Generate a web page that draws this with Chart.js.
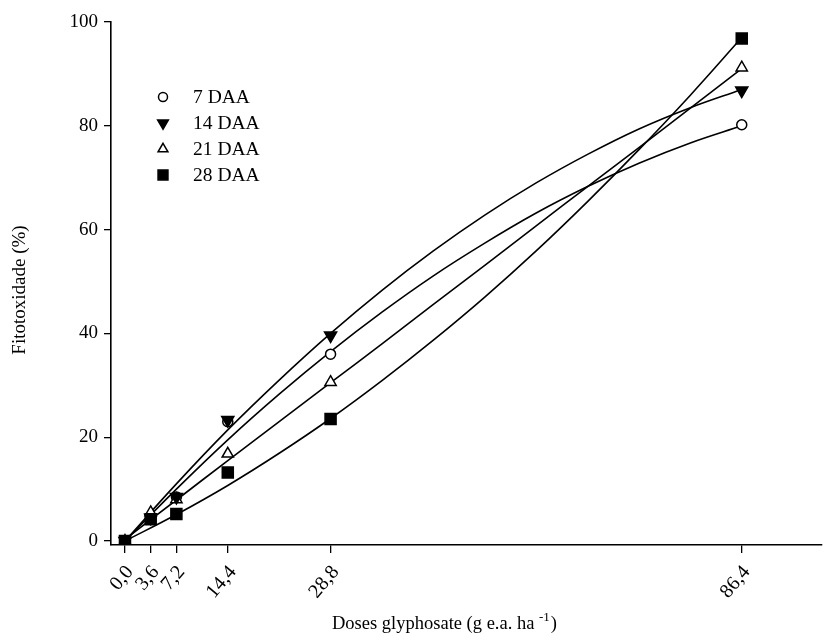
<!DOCTYPE html>
<html>
<head>
<meta charset="utf-8">
<script src="https://cdn.jsdelivr.net/npm/chart.js@4/dist/chart.umd.min.js"></script>
<style>
  html, body { margin: 0; padding: 0; background: #fff; }
  #wrap { width: 831px; height: 634px; }
</style>
</head>
<body>
<div id="wrap"><canvas id="fito"></canvas></div>
<script>
// doses of glyphosate (g e.a. ha-1) and observed phytotoxicity (%)
var doses = [0, 3.6, 7.2, 14.4, 28.8, 86.4];
var doseLabels = ['0,0', '3,6', '7,2', '14,4', '28,8', '86,4'];
var daa7 = [0, 4.5, 8.5, 23, 36, 80.2];
var daa14 = [0, 4.5, 8.5, 23.3, 39.6, 86.8];
var daa21 = [0, 5.5, 8, 16.8, 30.6, 91.2];
var daa28 = [0, 4.2, 5.2, 13.2, 23.5, 96.8];

// fitted regression curves
var curveDoses = [0, 7.2, 14.4, 21.6, 28.8, 36, 43.2, 50.4, 57.6, 64.8, 72, 79.2, 86.4];
var fit7 = [0, 10.0, 19.5, 28.3, 36.5, 44.1, 51.1, 57.4, 63.2, 68.3, 72.8, 76.7, 80.0];
var fit14 = [0, 11.0, 21.4, 31.0, 40.0, 48.3, 55.9, 62.8, 69.0, 74.5, 79.4, 83.5, 87.0];
var fit21 = [0.3, 7.9, 15.5, 23.0, 30.5, 38.0, 45.6, 53.1, 60.7, 68.3, 75.8, 83.4, 91.0];
var fit28 = [0, 5.1, 10.7, 16.9, 23.6, 30.9, 38.7, 47.0, 55.9, 65.4, 75.4, 85.9, 97.0];

var yTicks = [0, 20, 40, 60, 80, 100];
var seriesNames = ['7 DAA', '14 DAA', '21 DAA', '28 DAA'];

var serif = '"Liberation Serif", "Times New Roman", serif';

function pts(xs, ys) {
  return xs.map(function (x, i) { return { x: x, y: ys[i] }; });
}

function curve(ys) {
  return {
    type: 'line',
    data: pts(curveDoses, ys),
    borderColor: '#000',
    borderWidth: 1.6,
    pointRadius: 0,
    tension: 0.4,
    fill: false,
    order: 10
  };
}

var markerStyles = [
  { pointStyle: 'circle', radius: 5, rotation: 0, bg: '#fff' },
  { pointStyle: 'triangle', radius: 7, rotation: 180, bg: '#000' },
  { pointStyle: 'triangle', radius: 6.5, rotation: 0, bg: '#fff' },
  { pointStyle: 'rect', radius: 7.8, rotation: 0, bg: '#000' }
];

function markers(ys, k, order) {
  var m = markerStyles[k];
  return {
    type: 'scatter',
    label: seriesNames[k],
    data: pts(doses, ys),
    showLine: false,
    pointStyle: m.pointStyle,
    pointRadius: m.radius,
    pointHoverRadius: m.radius,
    pointRotation: m.rotation,
    pointBackgroundColor: m.bg,
    pointBorderColor: '#000',
    pointBorderWidth: 1.5,
    order: order
  };
}

// axis titles and legend are drawn by hand
var annotate = {
  id: 'annotate',
  afterDraw: function (chart) {
    var ctx = chart.ctx;
    ctx.save();
    ctx.fillStyle = '#000';

    // y title
    ctx.font = '19px ' + serif;
    ctx.textAlign = 'center';
    ctx.textBaseline = 'middle';
    ctx.translate(20, 290);
    ctx.rotate(-Math.PI / 2);
    ctx.fillText('Fitotoxidade (%)', 0, 0);
    ctx.setTransform(1, 0, 0, 1, 0, 0);

    // x title with superscript
    ctx.textAlign = 'left';
    ctx.textBaseline = 'alphabetic';
    var x = 332, y = 629;
    var main = 'Doses glyphosate (g e.a. ha ';
    ctx.font = '18.5px ' + serif;
    ctx.fillText(main, x, y);
    x += ctx.measureText(main).width;
    ctx.font = '13px ' + serif;
    ctx.fillText('-1', x, y - 8);
    x += ctx.measureText('-1').width;
    ctx.font = '18.5px ' + serif;
    ctx.fillText(')', x + 1, y);

    // legend
    var rowY = [97, 123, 149, 175];
    ctx.font = '19.5px ' + serif;
    ctx.textBaseline = 'middle';
    rowY.forEach(function (ry, k) {
      var m = markerStyles[k];
      ctx.fillStyle = m.bg;
      ctx.strokeStyle = '#000';
      ctx.lineWidth = 1.5;
      Chart.helpers.drawPoint(ctx, {
        pointStyle: m.pointStyle,
        rotation: m.rotation,
        radius: k === 0 ? 4.5 : m.radius - 0.8,
        borderWidth: 1.5
      }, 163, ry);
      ctx.fillStyle = '#000';
      ctx.fillText(seriesNames[k], 193, ry + 1);
    });
    ctx.restore();
  }
};

new Chart(document.getElementById('fito'), {
  data: {
    datasets: [
      curve(fit7), curve(fit14), curve(fit21), curve(fit28),
      markers(daa7, 0, 4),
      markers(daa21, 2, 3),
      markers(daa14, 1, 2),
      markers(daa28, 3, 1)
    ]
  },
  options: {
    responsive: true,
    maintainAspectRatio: false,
    animation: false,
    layout: { padding: { left: 0, top: 22, right: 2, bottom: 0 } },
    plugins: {
      legend: { display: false },
      tooltip: { enabled: false }
    },
    scales: {
      x: {
        type: 'linear',
        min: -1.96,
        max: 97.6,
        afterBuildTicks: function (scale) {
          scale.ticks = doses.map(function (v) { return { value: v }; });
        },
        afterFit: function (scale) { scale.height = 89; },
        ticks: {
          autoSkip: false,
          minRotation: 50,
          maxRotation: 50,
          padding: 8,
          labelOffset: 5,
          color: '#000',
          font: { family: serif, size: 20 },
          callback: function (v, i) { return doseLabels[i]; }
        },
        grid: { drawOnChartArea: false, drawTicks: true, tickLength: 8, color: '#000', lineWidth: 1.3 },
        border: { display: true, color: '#000', width: 1.6 }
      },
      y: {
        type: 'linear',
        min: -0.77,
        max: 100,
        afterBuildTicks: function (scale) {
          scale.ticks = yTicks.map(function (v) { return { value: v }; });
        },
        afterFit: function (scale) { scale.width = 111; },
        ticks: {
          padding: 6,
          color: '#000',
          font: { family: serif, size: 19 }
        },
        grid: { drawOnChartArea: false, drawTicks: true, tickLength: 7, color: '#000', lineWidth: 1.3 },
        border: { display: true, color: '#000', width: 1.6 }
      }
    }
  },
  plugins: [annotate]
});
</script>
</body>
</html>
